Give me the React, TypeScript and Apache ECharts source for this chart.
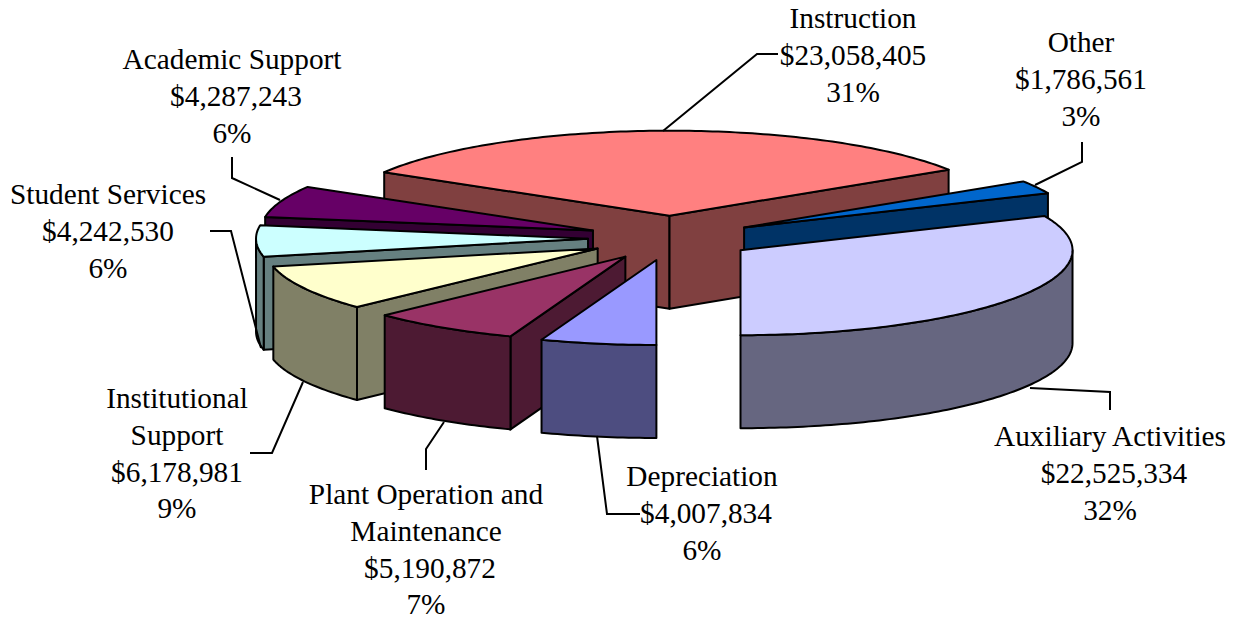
import React, { useEffect, useRef } from "react";
import * as echarts from "echarts";

const categories = ["Instruction", "Other", "Auxiliary Activities", "Depreciation", "Plant Operation and\nMaintenance", "Institutional\nSupport", "Student Services", "Academic Support"];
const values = [23058405, 1786561, 22525334, 4007834, 5190872, 6178981, 4242530, 4287243];
const amountLabels = ["$23,058,405", "$1,786,561", "$22,525,334", "$4,007,834", "$5,190,872", "$6,178,981", "$4,242,530", "$4,287,243"];
const percentLabels = ["31%", "3%", "32%", "6%", "7%", "9%", "6%", "6%"];
const topColors = ["#FF8080", "#0066CC", "#CCCCFF", "#9999FF", "#993366", "#FFFFCC", "#CCFFFF", "#660066"];
const sideColors = ["#804040", "#003366", "#666680", "#4D4D80", "#4D1A33", "#808066", "#668080", "#330033"];
const drawOrder = [0, 1, 2, 7, 6, 5, 4, 3];

const CX = 671, CY = 238, RX = 332, RY = 85, DEPTH = 93, EXPLODE = 83, START_DEG = -59.25;
const LINE_H = 36.8;
const labelCenters = [[853, 18], [1081, 42], [1110, 436], [702, 476], [426, 494], [177, 398], [108, 194], [232, 59]];
const amountShift = [0, 0, 4, 4, 4, 0, 0, 4];
const leaders = [
  [[663, 131], [757, 54], [778, 54]],
  [[1035, 185], [1082, 162], [1082, 142]],
  [[1030, 388], [1110, 392], [1110, 410]],
  [[597, 436], [607, 514], [640, 514]],
  [[444, 422], [426, 449], [426, 470]],
  [[303, 382], [272, 453], [250, 453]],
  [[261, 348], [231, 231], [210, 231]],
  [[280, 200], [232, 178], [232, 157]],
];

const FONT = '"Liberation Serif", "Times New Roman", serif';
const total = values.reduce((a, b) => a + b, 0);
const rad = (d: number) => (d * Math.PI) / 180;
const startAngles: number[] = [];
values.reduce((acc, v, i) => { startAngles[i] = acc; return acc + (v / total) * 360; }, START_DEG);

function renderSlice(_params: any, api: any) {
  const idx = api.value(0);
  const v = api.value(1);
  const a0 = startAngles[idx];
  const a1 = a0 + (v / total) * 360;
  const mid = rad((a0 + a1) / 2);
  const ax = CX + EXPLODE * Math.sin(mid);
  const ay = CY - EXPLODE * (RY / RX) * Math.cos(mid) * 1.05;
  const rim = (deg: number): number[] => [ax + RX * Math.sin(rad(deg)), ay - RY * Math.cos(rad(deg))];
  const arc = (from: number, to: number): number[][] => {
    const n = Math.max(2, Math.ceil(Math.abs(to - from)));
    const out: number[][] = [];
    for (let i = 0; i <= n; i++) out.push(rim(from + ((to - from) * i) / n));
    return out;
  };
  const down = (p: number[]) => [p[0], p[1] + DEPTH];
  const sideStyle = { fill: sideColors[idx], stroke: "#000", lineWidth: 2, lineJoin: "round" };
  const children: any[] = [];
  const wall = (a: number) => {
    const r = rim(a);
    children.push({ type: "polygon", shape: { points: [[ax, ay], r, down(r), [ax, ay + DEPTH]] }, style: sideStyle, silent: true });
  };
  if (Math.sin(rad(a0)) < -0.01) wall(a0);
  if (Math.sin(rad(a1)) > 0.01) wall(a1);
  const lo = Math.max(a0, 90), hi = Math.min(a1, 270);
  if (hi > lo) {
    const front = arc(lo, hi);
    children.push({ type: "polygon", shape: { points: [...front, ...front.map(down).reverse()] }, style: sideStyle, silent: true });
  }
  children.push({
    type: "polygon",
    shape: { points: [[ax, ay], ...arc(a0, a1)] },
    style: { fill: topColors[idx], stroke: "#000", lineWidth: 2, lineJoin: "round" },
    silent: true,
  });
  return { type: "group", children };
}

function labelTexts(i: number) {
  const names = categories[i].split("\n");
  const rows = [...names, amountLabels[i], percentLabels[i]];
  return rows.map((text, k) => ({
    type: "text", silent: true, z: 11,
    x: labelCenters[i][0] + (k === names.length ? amountShift[i] : 0),
    y: labelCenters[i][1] + k * LINE_H,
    style: { text, font: `29.3px ${FONT}`, fill: "#000", align: "center", verticalAlign: "middle" },
  }));
}

export default function App() {
  const ref = useRef<HTMLDivElement>(null);
  useEffect(() => {
    const chart = echarts.init(ref.current!, null, { renderer: "svg" });
    chart.setOption({
      animation: false,
      backgroundColor: "#fff",
      series: [{
        type: "custom",
        coordinateSystem: "none",
        silent: true,
        renderItem: renderSlice,
        data: drawOrder.map((i) => [i, values[i]]),
      }],
      graphic: [
        ...leaders.map((pts) => ({
          type: "polyline", silent: true, z: 10,
          shape: { points: pts },
          style: { stroke: "#000", lineWidth: 2, fill: "none" },
        })),
        ...categories.flatMap((_c, i) => labelTexts(i)),
      ],
    });
    return () => chart.dispose();
  }, []);
  return <div ref={ref} style={{ position: "fixed", left: 0, top: 0, width: 1238, height: 619 }} />;
}
